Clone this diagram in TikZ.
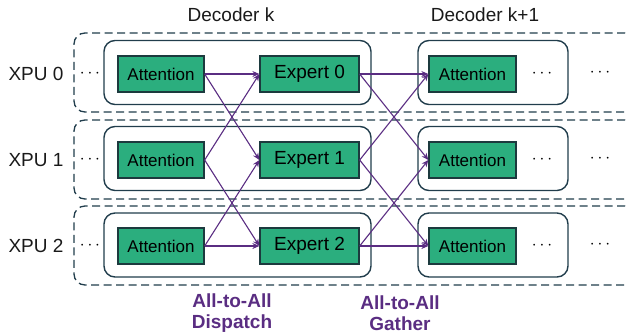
\documentclass[tikz,border=0pt]{standalone}
\usepackage{fontspec}
\setmainfont{Liberation Sans}
\usetikzlibrary{arrows.meta}
\definecolor{boxgreen}{HTML}{2BAE7E}
\definecolor{edgedark}{HTML}{1C3A3E}
\definecolor{slate}{HTML}{213D4C}
\definecolor{flow}{HTML}{5A2D82}
\tikzset{
  xpubox/.style={draw=slate, line width=1.3pt, dash pattern=on 8pt off 4.5pt, rounded corners=11pt, minimum height=79pt, minimum width=562pt},
  stagebox/.style={draw=slate, line width=1.4pt, rounded corners=11pt, minimum height=64pt},
  block/.style={draw=edgedark, line width=1.3pt, fill=boxgreen, minimum height=36pt, inner sep=0pt, text=black},
  attn/.style={block, minimum width=86pt, font=\fontsize{17}{20}\selectfont},
  expert/.style={block, minimum width=99pt, font=\fontsize{19}{22}\selectfont},
  lbl/.style={font=\fontsize{19}{22}\selectfont, text=black!90},
  flowlbl/.style={font=\fontsize{19}{21}\selectfont\bfseries, text=flow, align=center},
  dots/.style={font=\fontsize{19}{22}\selectfont, text=black},
  link/.style={draw=flow, line width=1.1pt, -{Stealth[length=7pt,width=6pt]}},
}
\begin{document}
\begin{tikzpicture}[x=1pt,y=-1pt]
\useasboundingbox (0,0) rectangle (628,335);
\clip (0,0) rectangle (628,335);

% device rows (dashed frames run past the right edge)
\foreach \r/\c in {0/72.5,1/159.5,2/245.5}{
  \node[xpubox] (xpu\r) at (355,\c) {};
}

% decoder stage frames
\foreach \r/\c in {0/72.5,1/158.5,2/245}{
  \node[stagebox, minimum width=267pt] (deck\r) at (237.5,\c) {};
  \node[stagebox, minimum width=150pt] (decn\r) at (493,\c) {};
}

% rows of blocks
\foreach \r/\y in {0/74,1/160,2/246}{
  \node[lbl] (xl\r) at (36,\y) {XPU \r};
  \node[dots] (dl\r) at (90,\y) {$\cdots$};
  \node[attn] (a\r) at (161,\y) {Attention};
  \node[expert] (e\r) at (309.5,\y) {Expert \r};
  \node[attn, minimum width=87pt] (b\r) at (472.5,\y) {Attention};
  \node[dots] (dm\r) at (542,\y) {$\cdots$};
  \node[dots] (dr\r) at (600,\y-1) {$\cdots$};
}

% headers
\node[lbl] (hk) at (231,15) {Decoder k};
\node[lbl] (hn) at (485,15) {Decoder k+1};

% all-to-all dispatch
\draw[link] (a0.east) -- (e0.west);
\draw[link] (a0.east) -- (e1.west);
\draw[link] (a1.east) -- (e0.west);
\draw[link] (a1.east) -- (e2.west);
\draw[link] (a2.east) -- (e1.west);
\draw[link] (a2.east) -- (e2.west);

% all-to-all gather
\draw[link] (e0.east) -- (b0.west);
\draw[link] (e0.east) -- (b1.west);
\draw[link] (e1.east) -- (b0.west);
\draw[link] (e1.east) -- (b2.west);
\draw[link] (e2.east) -- (b1.west);
\draw[link] (e2.east) -- (b2.west);

% phase captions
\node[flowlbl] (cd) at (232,313) {All-to-All\\Dispatch};
\node[flowlbl] (cg) at (400,313) {All-to-All\\Gather};
\end{tikzpicture}
\end{document}
